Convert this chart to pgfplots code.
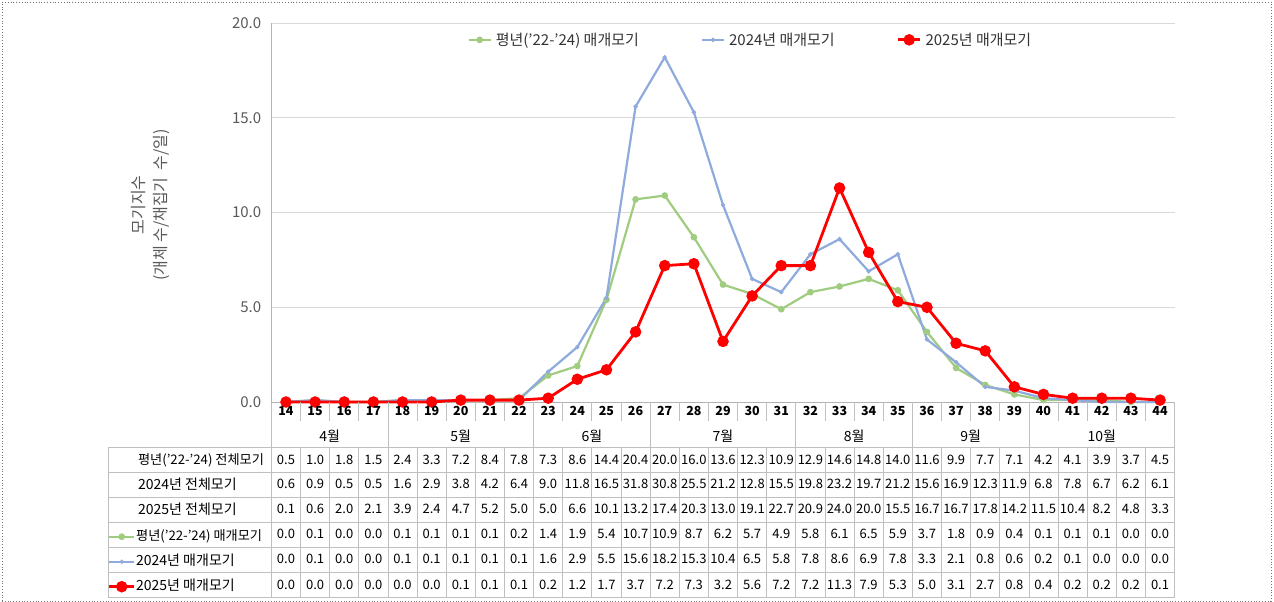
\documentclass[border=0pt]{standalone}
\usepackage{fontspec}
\setmainfont{Noto Sans CJK KR}
\usepackage{pgfplots}
\usepackage{pgfplotstable}
\pgfplotsset{compat=1.18}
\definecolor{cavg}{HTML}{9FCC7F}
\definecolor{c24}{HTML}{8FAADC}
\definecolor{c25}{HTML}{FF0000}
\definecolor{gridc}{HTML}{D9D9D9}
\definecolor{tabc}{HTML}{BFBFBF}
\definecolor{txt}{HTML}{595959}

\pgfplotstableread{
week avgT t24 t25 avg m24 m25
14 0.5 0.6 0.1 0.0 0.0 0.0
15 1.0 0.9 0.6 0.1 0.1 0.0
16 1.8 0.5 2.0 0.0 0.0 0.0
17 1.5 0.5 2.1 0.0 0.0 0.0
18 2.4 1.6 3.9 0.1 0.1 0.0
19 3.3 2.9 2.4 0.1 0.1 0.0
20 7.2 3.8 4.7 0.1 0.1 0.1
21 8.4 4.2 5.2 0.1 0.1 0.1
22 7.8 6.4 5.0 0.2 0.1 0.1
23 7.3 9.0 5.0 1.4 1.6 0.2
24 8.6 11.8 6.6 1.9 2.9 1.2
25 14.4 16.5 10.1 5.4 5.5 1.7
26 20.4 31.8 13.2 10.7 15.6 3.7
27 20.0 30.8 17.4 10.9 18.2 7.2
28 16.0 25.5 20.3 8.7 15.3 7.3
29 13.6 21.2 13.0 6.2 10.4 3.2
30 12.3 12.8 19.1 5.7 6.5 5.6
31 10.9 15.5 22.7 4.9 5.8 7.2
32 12.9 19.8 20.9 5.8 7.8 7.2
33 14.6 23.2 24.0 6.1 8.6 11.3
34 14.8 19.7 20.0 6.5 6.9 7.9
35 14.0 21.2 15.5 5.9 7.8 5.3
36 11.6 15.6 16.7 3.7 3.3 5.0
37 9.9 16.9 16.7 1.8 2.1 3.1
38 7.7 12.3 17.8 0.9 0.8 2.7
39 7.1 11.9 14.2 0.4 0.6 0.8
40 4.2 6.8 11.5 0.1 0.2 0.4
41 4.1 7.8 10.4 0.1 0.1 0.2
42 3.9 6.7 8.2 0.1 0.0 0.2
43 3.7 6.2 4.8 0.0 0.0 0.2
44 4.5 6.1 3.3 0.0 0.0 0.1
}\data

\pgfplotsset{
  avgstyle/.style={color=cavg, line width=2.2pt, mark=*, mark size=2.2pt, mark options={solid}},
  s24style/.style={color=c24, line width=2.2pt, mark=*, mark size=0.9pt},
  s25style/.style={color=c25, line width=2.8pt, mark=*, mark size=4.3pt},
  mylegimg/.style={legend image code/.code={\draw[mark repeat=2,mark phase=2] plot coordinates {(0pt,0pt) (11pt,0pt) (22pt,0pt)};}},
  tablegimg/.style={legend image code/.code={\draw[mark repeat=2,mark phase=2] plot coordinates {(0pt,0pt) (12.5pt,0pt) (25pt,0pt)};}},
}

\begin{document}
\begin{tikzpicture}[x=1pt,y=1pt]
\path[use as bounding box] (0,0) rectangle (1274,602);
\draw[black!55, dotted, line width=0.8pt] (2,1) rectangle (1271,600);

\begin{axis}[
  at={(271.4pt,200pt)}, anchor=south west,
  scale only axis, width=903.2pt, height=378.8pt,
  xmin=13.5, xmax=44.5, ymin=0, ymax=20,
  xtick=\empty, ytick={0,5,10,15,20},
  ymajorgrids, grid style={draw=gridc, line width=0.9pt},
  axis x line*=bottom, axis y line*=left,
  axis line style={draw=black!30, line width=0.9pt},
  major tick length=0pt,
  clip=false,
  yticklabel style={font=\fontsize{15}{16}\selectfont, text=txt, inner sep=0pt, xshift=-10pt,
    /pgf/number format/.cd, fixed, fixed zerofill, precision=1, assume math mode=true},
  mylegimg,
  legend style={at={(axis description cs:0.217,0.956)}, anchor=west, draw=none, fill=none,
    legend columns=3, font=\fontsize{15}{16}\selectfont, text=black!80, inner sep=0pt,
    /tikz/every even column/.append style={column sep=60pt},
    /tikz/every odd column/.append style={column sep=2pt}},
]
\addplot[avgstyle] table[x=week,y=avg]{\data};
\addlegendentry{평년('22-'24) 매개모기}
\addplot[s24style] table[x=week,y=m24]{\data};
\addlegendentry{2024년 매개모기}
\addplot[s25style] table[x=week,y=m25]{\data};
\addlegendentry{2025년 매개모기}
\end{axis}

% second hidden axis only for the table keys
\begin{axis}[
  at={(271.4pt,200pt)}, anchor=south west,
  scale only axis, width=903.2pt, height=378.8pt,
  xmin=13.5, xmax=44.5, ymin=0, ymax=20, hide axis,
  tablegimg,
  legend cell align=left,
  legend style={at={(axis description cs:-0.1813,-0.3221)}, anchor=north west, draw=none, fill=none,
    legend columns=1, font=\fontsize{14}{15}\selectfont, text=black, inner sep=0pt, row sep=0pt,
    nodes={inner sep=0pt, text height=16pt, text depth=9pt},
    /tikz/every odd column/.append style={column sep=0.5pt}},
]
\addlegendimage{avgstyle}
\addlegendentry{\fontsize{13.2}{15}\selectfont 평년('22-'24) 매개모기}
\addlegendimage{s24style}
\addlegendentry{2024년 매개모기}
\addlegendimage{s25style}
\addlegendentry{2025년 매개모기}
\end{axis}

% y label
\node[rotate=90, align=center, text=txt, font=\fontsize{16}{22}\selectfont] at (150,397) {모기지수\\(개체 수/채집기 \ 수/일)};

% table grid
\foreach \k in {1,2,3,5,6,7,8,10,11,12,14,15,16,17,19,20,21,23,24,25,27,28,29,30} {
  \pgfmathsetmacro\xx{271.4+\k*29.135}
  \draw[tabc, line width=0.8pt] (\xx,200) -- (\xx,181);
  \draw[tabc, line width=0.8pt] (\xx,155) -- (\xx,5);
}
\foreach \k in {0,4,9,13,18,22,26,31} {
  \pgfmathsetmacro\xx{271.4+\k*29.135}
  \draw[tabc, line width=0.8pt] (\xx,200) -- (\xx,5);
}
\foreach \yy in {155,130,105,80,55,30,5} {
  \draw[tabc, line width=0.8pt] (108,\yy) -- (1174.6,\yy);
}
\draw[tabc, line width=0.8pt] (108,155) -- (108,5);

% week numbers and values
\foreach \r in {0,...,30} {
  \pgfmathsetmacro\cx{271.4+(\r+0.5)*29.135}
  \pgfmathtruncatemacro\wk{\r+14}
  \node[font=\fontsize{12.5}{14}\selectfont\bfseries] at (\cx,191) {\wk};
  \pgfplotstablegetelem{\r}{avgT}\of\data
  \node[font=\fontsize{13}{14}\selectfont] at (\cx,142) {\pgfplotsretval};
  \pgfplotstablegetelem{\r}{t24}\of\data
  \node[font=\fontsize{13}{14}\selectfont] at (\cx,118) {\pgfplotsretval};
  \pgfplotstablegetelem{\r}{t25}\of\data
  \node[font=\fontsize{13}{14}\selectfont] at (\cx,93) {\pgfplotsretval};
  \pgfplotstablegetelem{\r}{avg}\of\data
  \node[font=\fontsize{13}{14}\selectfont] at (\cx,68) {\pgfplotsretval};
  \pgfplotstablegetelem{\r}{m24}\of\data
  \node[font=\fontsize{13}{14}\selectfont] at (\cx,43) {\pgfplotsretval};
  \pgfplotstablegetelem{\r}{m25}\of\data
  \node[font=\fontsize{13}{14}\selectfont] at (\cx,17) {\pgfplotsretval};
}
% month labels
\foreach \m/\c in {4월/1.5, 5월/6, 6월/10.5, 7월/15, 8월/19.5, 9월/23.5, 10월/28} {
  \pgfmathsetmacro\cx{271.4+(\c+0.5)*29.135}
  \node[font=\fontsize{14}{15}\selectfont] at (\cx,166) {\m};
}
% row labels
\node[anchor=west, font=\fontsize{13.2}{15}\selectfont] at (134.5,142) {평년('22-'24) 전체모기};
\node[anchor=west, font=\fontsize{14}{15}\selectfont] at (134.5,118) {2024년 전체모기};
\node[anchor=west, font=\fontsize{14}{15}\selectfont] at (134.5,93) {2025년 전체모기};
\end{tikzpicture}
\end{document}
